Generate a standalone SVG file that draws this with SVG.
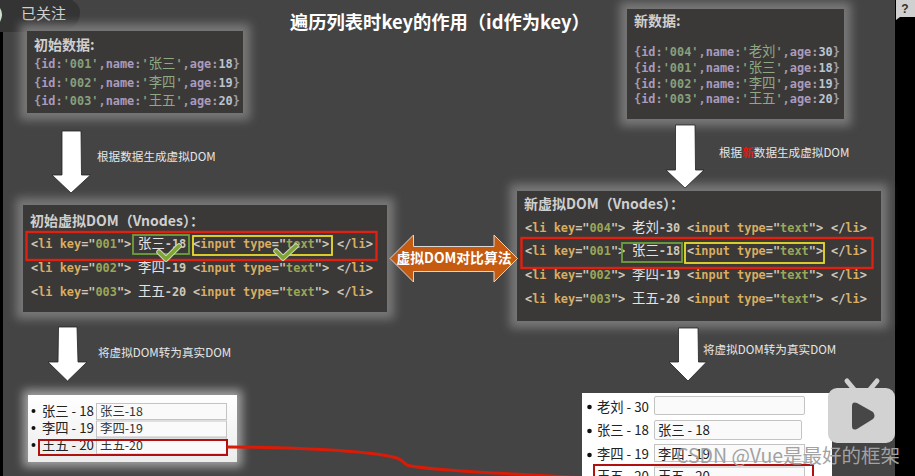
<svg xmlns="http://www.w3.org/2000/svg" width="915" height="476" viewBox="0 0 915 476">
<style>
text{font-family:"DejaVu Sans Mono","Noto Sans CJK SC",monospace;white-space:pre}
.h{font-family:"Noto Sans CJK SC","Noto Sans",sans-serif;font-weight:700;font-size:14px;fill:#cfcfcf}
.d{font-size:11.9px;font-weight:700;fill:#a09ca4}
.c{fill:#a99bbd}.s{fill:#87a07c}.n{fill:#bcc4ce}.z{font-family:"Noto Sans CJK SC",sans-serif;font-size:13.4px;font-weight:400;fill:#8fa983}
.l{font-size:11.9px;font-weight:700;fill:#cfc8ba}
.o{fill:#d9ad60}.g{fill:#9aa758}.w{font-family:"Noto Sans CJK SC",sans-serif;font-size:13.4px;font-weight:400;fill:#e4e4e4}
.t{font-family:"Noto Sans CJK SC",sans-serif;font-size:11.6px;fill:#e6e6e6}
.r{font-family:"Noto Sans CJK SC",sans-serif;font-size:13.3px;fill:#222}
.q{font-family:"Noto Sans CJK SC",sans-serif;font-size:12.4px;fill:#333}
.box{fill:#3b3838}
.glow{fill:#787878;filter:url(#b)}
.glowW{fill:#a0a0a0;filter:url(#b)}
.red{fill:none;stroke:#e02010;stroke-width:2.4}
.gr{fill:none;stroke:#6fa03c;stroke-width:1.8}
.ye{fill:none;stroke:#ecdc2c;stroke-width:1.8}
.arr{fill:#fff;stroke:#222;stroke-width:.8}
.inp{fill:#fafafa;stroke:#c4c4c4;stroke-width:1}
.ck{fill:none;stroke-linecap:round;stroke-linejoin:round}
</style>
<defs>
<filter id="b" x="-20%" y="-30%" width="140%" height="160%"><feGaussianBlur stdDeviation="5"/></filter>
<linearGradient id="wg" x1="0" y1="0" x2="0" y2="1"><stop offset="0" stop-color="#fff"/><stop offset="1" stop-color="#ececec"/></linearGradient>
</defs>
<rect width="915" height="476" fill="#444"/>
<rect x="0" width="3" height="476" fill="#000"/>
<rect x="895" width="20" height="476" fill="#000"/>
<path d="M896 0H915V17H900L896 20Z" fill="#d0d0d0"/>
<text x="905" y="13" text-anchor="middle" font-size="12" font-weight="700" fill="#333" style="font-family:'Liberation Sans',sans-serif">?</text>

<g id="follow">
<path d="M0 0H72Q80 5 80 12Q80 32 52 32H0Z" fill="#343434"/>
<path d="M0 8Q4 14 0 22Z" fill="#cfe0d0"/>
<text x="21" y="19" class="w" style="font-size:15px;fill:#d0d0d0">已关注</text>
</g>
<text id="title" x="290" y="29" style="font-family:'Noto Sans CJK SC',sans-serif" font-size="18.300" font-weight="700" fill="#fff">遍历列表时key的作用（id作为key）</text>

<g id="old-data">
<rect class="glow" x="20" y="24" width="230" height="96"/>
<rect class="box" x="27" y="31" width="216" height="82"/>
<text x="34" y="50" class="h">初始数据:</text>
<text class="d" y="68"><tspan x="34">{</tspan><tspan class="c">id</tspan>:<tspan class="s">'001'</tspan>,<tspan class="c">name</tspan>:<tspan class="s">'</tspan><tspan class="z">张三</tspan><tspan class="s">'</tspan>,<tspan class="c">age</tspan>:<tspan class="n">18</tspan>}</text>
<text class="d" y="87"><tspan x="34">{</tspan><tspan class="c">id</tspan>:<tspan class="s">'002'</tspan>,<tspan class="c">name</tspan>:<tspan class="s">'</tspan><tspan class="z">李四</tspan><tspan class="s">'</tspan>,<tspan class="c">age</tspan>:<tspan class="n">19</tspan>}</text>
<text class="d" y="105"><tspan x="34">{</tspan><tspan class="c">id</tspan>:<tspan class="s">'003'</tspan>,<tspan class="c">name</tspan>:<tspan class="s">'</tspan><tspan class="z">王五</tspan><tspan class="s">'</tspan>,<tspan class="c">age</tspan>:<tspan class="n">20</tspan>}</text>
</g>

<g id="new-data">
<rect class="glow" x="620" y="2" width="231" height="124"/>
<rect class="box" x="627" y="9" width="217" height="110"/>
<text x="634" y="26" class="h">新数据:</text>
<text class="d" y="56"><tspan x="634">{</tspan><tspan class="c">id</tspan>:<tspan class="s">'004'</tspan>,<tspan class="c">name</tspan>:<tspan class="s">'</tspan><tspan class="z">老刘</tspan><tspan class="s">'</tspan>,<tspan class="c">age</tspan>:<tspan class="n">30</tspan>}</text>
<text class="d" y="72"><tspan x="634">{</tspan><tspan class="c">id</tspan>:<tspan class="s">'001'</tspan>,<tspan class="c">name</tspan>:<tspan class="s">'</tspan><tspan class="z">张三</tspan><tspan class="s">'</tspan>,<tspan class="c">age</tspan>:<tspan class="n">18</tspan>}</text>
<text class="d" y="88"><tspan x="634">{</tspan><tspan class="c">id</tspan>:<tspan class="s">'002'</tspan>,<tspan class="c">name</tspan>:<tspan class="s">'</tspan><tspan class="z">李四</tspan><tspan class="s">'</tspan>,<tspan class="c">age</tspan>:<tspan class="n">19</tspan>}</text>
<text class="d" y="103"><tspan x="634">{</tspan><tspan class="c">id</tspan>:<tspan class="s">'003'</tspan>,<tspan class="c">name</tspan>:<tspan class="s">'</tspan><tspan class="z">王五</tspan><tspan class="s">'</tspan>,<tspan class="c">age</tspan>:<tspan class="n">20</tspan>}</text>
</g>

<g id="old-vdom">
<rect class="glow" x="16" y="198" width="378" height="121"/>
<rect class="box" x="23" y="205" width="364" height="107"/>
<text x="30" y="226" class="h">初始虚拟DOM（Vnodes）：</text>
<text class="l" y="248"><tspan x="31">&lt;</tspan><tspan class="o">li key</tspan>="<tspan class="g">001</tspan>"&gt;<tspan x="138" class="w">张三</tspan><tspan>-18</tspan><tspan x="193">&lt;</tspan><tspan class="o">input type</tspan>="<tspan class="g">text</tspan>"&gt;<tspan x="337">&lt;/</tspan><tspan class="o">li</tspan>&gt;</text>
<text class="l" y="272"><tspan x="31">&lt;</tspan><tspan class="o">li key</tspan>="<tspan class="g">002</tspan>"&gt;<tspan x="138" class="w">李四</tspan><tspan>-19</tspan><tspan x="193">&lt;</tspan><tspan class="o">input type</tspan>="<tspan class="g">text</tspan>"&gt;<tspan x="337">&lt;/</tspan><tspan class="o">li</tspan>&gt;</text>
<text class="l" y="296"><tspan x="31">&lt;</tspan><tspan class="o">li key</tspan>="<tspan class="g">003</tspan>"&gt;<tspan x="138" class="w">王五</tspan><tspan>-20</tspan><tspan x="193">&lt;</tspan><tspan class="o">input type</tspan>="<tspan class="g">text</tspan>"&gt;<tspan x="337">&lt;/</tspan><tspan class="o">li</tspan>&gt;</text>
<rect class="red" x="26.500" y="232" width="350" height="28"/>
<rect class="gr" x="133" y="235" width="56" height="19"/>
<rect class="ye" x="193" y="236" width="139" height="19"/>
<path class="ck" stroke="#cfd8c0" stroke-width="5.500" d="M159 252L166 259L179 246M276 251L283 258L296 246"/>
<path class="ck" stroke="#7fa532" stroke-width="3.500" d="M159 252L166 259L179 246M276 251L283 258L296 246"/>
</g>

<g id="new-vdom">
<rect class="glow" x="510" y="184" width="378" height="144"/>
<rect class="box" x="517" y="191" width="364" height="130"/>
<text x="524" y="209" class="h">新虚拟DOM（Vnodes）：</text>
<text class="l" y="232"><tspan x="525">&lt;</tspan><tspan class="o">li key</tspan>="<tspan class="g">004</tspan>"&gt;<tspan x="632" class="w">老刘</tspan><tspan>-30</tspan><tspan x="687">&lt;</tspan><tspan class="o">input type</tspan>="<tspan class="g">text</tspan>"&gt;<tspan x="831">&lt;/</tspan><tspan class="o">li</tspan>&gt;</text>
<text class="l" y="255"><tspan x="525">&lt;</tspan><tspan class="o">li key</tspan>="<tspan class="g">001</tspan>"&gt;<tspan x="632" class="w">张三</tspan><tspan>-18</tspan><tspan x="687">&lt;</tspan><tspan class="o">input type</tspan>="<tspan class="g">text</tspan>"&gt;<tspan x="831">&lt;/</tspan><tspan class="o">li</tspan>&gt;</text>
<text class="l" y="279"><tspan x="525">&lt;</tspan><tspan class="o">li key</tspan>="<tspan class="g">002</tspan>"&gt;<tspan x="632" class="w">李四</tspan><tspan>-19</tspan><tspan x="687">&lt;</tspan><tspan class="o">input type</tspan>="<tspan class="g">text</tspan>"&gt;<tspan x="831">&lt;/</tspan><tspan class="o">li</tspan>&gt;</text>
<text class="l" y="303"><tspan x="525">&lt;</tspan><tspan class="o">li key</tspan>="<tspan class="g">003</tspan>"&gt;<tspan x="632" class="w">王五</tspan><tspan>-20</tspan><tspan x="687">&lt;</tspan><tspan class="o">input type</tspan>="<tspan class="g">text</tspan>"&gt;<tspan x="831">&lt;/</tspan><tspan class="o">li</tspan>&gt;</text>
<rect class="red" x="521.500" y="238" width="351" height="30"/>
<rect class="gr" x="622" y="243" width="60" height="19"/>
<rect class="ye" x="685" y="243" width="139" height="20"/>
</g>

<g id="diff-arrow">
<path d="M390 258.500L413.500 235V246.500H494V235L517.500 258.500L494 282V271.500H413.500V282Z" fill="#c55a11" stroke="#d8d8d8" stroke-width="1"/>
<text x="454" y="263" text-anchor="middle" style="font-family:'Noto Sans CJK SC',sans-serif" font-size="13.800" font-weight="700" fill="#fff">虚拟DOM对比算法</text>
</g>

<g id="old-list">
<rect class="glowW" x="23" y="390" width="219" height="77"/>
<rect x="28" y="395" width="209" height="67" fill="url(#wg)"/>
<circle cx="33.500" cy="411" r="2" fill="#111"/><circle cx="33.500" cy="428" r="2" fill="#111"/><circle cx="33.500" cy="445" r="2" fill="#111"/>
<rect class="inp" x="96.500" y="403.500" width="130" height="16"/><rect class="inp" x="96.500" y="421" width="130" height="16"/><rect class="inp" x="96.500" y="438" width="130" height="16"/>
<text x="42" y="416" class="r">张三 - 18</text><text x="42" y="433" class="r">李四 - 19</text><text x="42" y="450" class="r">王五 - 20</text>
<text x="100" y="416" class="q">张三-18</text><text x="100" y="433" class="q">李四-19</text><text x="100" y="450" class="q">王五-20</text>
<rect x="39" y="440" width="188" height="15" fill="none" stroke="#b01010" stroke-width="2"/>
</g>

<g id="new-list">
<rect x="582" y="393" width="250" height="83" fill="#fff"/>
<circle cx="589.500" cy="407" r="2.300" fill="#111"/><circle cx="589.500" cy="431" r="2.300" fill="#111"/><circle cx="589.500" cy="455" r="2.300" fill="#111"/>
<rect class="inp" x="654.500" y="396.500" width="150" height="18" rx="1.500"/><rect class="inp" x="654.500" y="420.500" width="147" height="19" rx="1.500"/><rect class="inp" x="654.500" y="444.500" width="150" height="17"/><rect class="inp" x="654.500" y="467" width="150" height="15"/>
<text x="597" y="412" class="r">老刘 - 30</text><text x="597" y="435" class="r">张三 - 18</text><text x="597" y="459" class="r">李四 - 19</text><text x="597" y="481" class="r">王五 - 20</text>
<text x="658" y="435" class="r">张三 - 18</text><text x="658" y="459" class="r">李四 - 19</text><text x="658" y="481" class="r">王五 - 20</text>
<rect x="594" y="465" width="219" height="18" fill="none" stroke="#b01010" stroke-width="2"/>
</g>

<g id="connectors">
<path class="arr" d="M62 131H81L81.500 175H90.500L71 193L52 175H62Z"/>
<path class="arr" d="M58.500 327H77L78 362H87L67.500 381L48 362H58Z"/>
<path class="arr" d="M675.500 125H695L695.500 170H704L685 188L666 170H675.500Z"/>
<path class="arr" d="M678.500 328H698L698.500 362H706.500L688 381L669 362H678.500Z"/>
<path d="M227 447C280 447 370 450 397 458C402 460 404 463 407 465C420 469 470 472 590 478" fill="none" stroke="#d81c08" stroke-width="3"/>
</g>

<g id="labels">
<text x="97" y="161" class="t">根据数据生成虚拟DOM</text>
<text x="719" y="157" class="t">根据<tspan fill="#f01010" font-weight="700">新</tspan>数据生成虚拟DOM</text>
<text x="98" y="357" class="t">将虚拟DOM转为真实DOM</text>
<text x="703" y="354" class="t">将虚拟DOM转为真实DOM</text>
</g>

<g id="watermark">
<path d="M847 381L857 393M877 381L867 393" stroke="#d0d0d0" stroke-width="5" stroke-linecap="round"/>
<rect x="828" y="388" width="67" height="55" rx="9" fill="#d2d2d2"/>
<path d="M852 406Q852 401 857 403L873 412Q876 416 873 419L857 429Q852 431 852 426Z" fill="#474747"/>
<text x="676" y="463" style="font-family:'Noto Sans CJK SC','Noto Sans',sans-serif" font-size="19.500" fill="#a2a2a2">CSDN @Vue是最好的框架</text>
</g>
</svg>
